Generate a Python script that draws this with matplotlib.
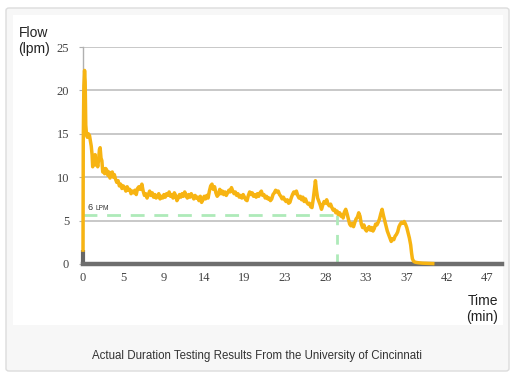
import matplotlib
matplotlib.use("Agg")
import matplotlib.pyplot as plt
from matplotlib.patches import FancyBboxPatch, Rectangle

# ---- data ----
time_min = [
    0.00, 0.03, 0.10, 0.18, 0.25, 0.32, 0.40, 0.50, 0.62, 0.75, 0.85, 0.95, 1.05, 1.12, 1.20, 1.30,
    1.40, 1.50, 1.60, 1.70, 1.80, 1.90, 1.98, 2.08, 2.18, 2.28, 2.38, 2.50, 2.62, 2.75, 2.88, 3.00,
    3.12, 3.25, 3.38, 3.50, 3.62, 3.75, 3.90, 4.05, 4.20, 4.35, 4.50, 4.65, 4.80, 4.95, 5.10, 5.25,
    5.40, 5.55, 5.70, 5.85, 6.00, 6.15, 6.30, 6.45, 6.60, 6.80, 6.95, 7.10, 7.25, 7.40, 7.55, 7.70,
    7.85, 8.00, 8.15, 8.30, 8.45, 8.60, 8.75, 8.90, 9.05, 9.20, 9.35, 9.50, 9.65, 9.80, 9.95, 10.10,
    10.25, 10.40, 10.55, 10.70, 10.85, 11.00, 11.15, 11.30, 11.45, 11.60, 11.75, 11.90, 12.05, 12.20,
    12.35, 12.50, 12.65, 12.80, 12.95, 13.10, 13.25, 13.40, 13.55, 13.70, 13.85, 14.00, 14.15, 14.30,
    14.45, 14.60, 14.75, 14.90, 15.05, 15.20, 15.35, 15.50, 15.65, 15.80, 15.95, 16.10, 16.25, 16.40,
    16.55, 16.70, 16.85, 17.00, 17.15, 17.30, 17.45, 17.60, 17.75, 17.90, 18.05, 18.20, 18.35, 18.50,
    18.65, 18.80, 18.95, 19.10, 19.25, 19.40, 19.55, 19.70, 19.85, 20.00, 20.15, 20.30, 20.45, 20.60,
    20.75, 20.90, 21.05, 21.20, 21.35, 21.50, 21.65, 21.80, 21.95, 22.10, 22.25, 22.40, 22.55, 22.70,
    22.85, 23.00, 23.15, 23.30, 23.45, 23.60, 23.75, 23.90, 24.05, 24.20, 24.35, 24.50, 24.65, 24.80,
    24.95, 25.10, 25.25, 25.40, 25.55, 25.70, 25.85, 26.00, 26.15, 26.30, 26.45, 26.60, 26.75, 26.85,
    26.95, 27.10, 27.25, 27.40, 27.55, 27.70, 27.85, 28.00, 28.15, 28.30, 28.45, 28.60, 28.75, 28.90,
    29.05, 29.20, 29.35, 29.50, 29.65, 29.80, 29.95, 30.05, 30.20, 30.35, 30.50, 30.65, 30.80, 30.95,
    31.10, 31.25, 31.40, 31.55, 31.70, 31.85, 32.00, 32.15, 32.30, 32.45, 32.60, 32.75, 32.90, 33.05,
    33.20, 33.35, 33.50, 33.65, 33.80, 33.95, 34.10, 34.25, 34.40, 34.55, 34.70, 34.85, 35.00, 35.15,
    35.30, 35.45, 35.60, 35.75, 35.90, 36.05, 36.20, 36.35, 36.50, 36.65, 36.80, 36.95, 37.10, 37.25,
    37.40, 37.55, 37.70, 37.85, 37.95, 38.05, 38.20, 38.40, 38.70, 39.20, 39.80, 40.40,
]
flow_lpm = [
    1.6, 14.0, 20.5, 22.3, 21.0, 16.0, 15.0, 14.6, 15.0, 14.8, 14.2, 13.6, 12.6, 11.2, 12.2, 11.8,
    12.6, 11.4, 11.8, 11.2, 12.0, 13.2, 13.4, 12.2, 11.9, 10.6, 11.0, 10.4, 11.0, 10.8, 10.2, 10.6,
    9.9, 10.4, 10.6, 10.0, 10.3, 9.8, 9.4, 9.6, 9.0, 9.2, 8.7, 9.0, 8.8, 8.4, 8.9, 8.5,
    8.6, 8.1, 8.4, 8.2, 8.5, 8.0, 8.7, 8.9, 8.6, 9.2, 8.4, 7.9, 8.1, 7.6, 8.0, 8.4,
    7.9, 8.2, 7.7, 8.0, 7.6, 7.8, 8.1, 7.5, 7.8, 7.6, 8.0, 7.7, 8.1, 7.9, 8.3, 7.8,
    8.0, 7.6, 8.2, 7.9, 7.3, 7.6, 8.0, 7.7, 8.1, 7.8, 8.3, 7.9, 7.6, 8.0,
    7.7, 8.1, 7.8, 7.5, 7.9, 7.6, 7.7, 7.3, 7.8, 7.1, 7.4, 7.8, 7.5, 7.9,
    7.6, 8.4, 9.0, 9.2, 8.6, 8.9, 8.2, 7.8, 8.0, 8.6, 8.1, 8.4, 8.0, 8.3,
    7.9, 8.2, 8.5, 8.3, 8.8, 8.4, 8.1, 8.3, 7.9, 8.1, 7.7, 7.9, 7.6, 8.0,
    7.7, 7.4, 7.3, 7.9, 8.3, 8.0, 8.2, 7.8, 8.0, 7.7, 8.1, 7.8, 8.2, 8.4,
    7.9, 8.0, 7.6, 7.8, 7.5, 7.6, 7.3, 7.5, 8.0, 8.2, 8.5, 8.3, 8.4, 8.0,
    7.8, 7.5, 7.7, 7.4, 7.2, 7.4, 7.0, 7.1, 7.6, 8.0, 8.3, 8.1, 8.4, 7.9,
    7.6, 7.8, 7.4, 7.7, 7.2, 7.5, 7.1, 6.9, 7.0, 6.6, 6.5, 7.5, 8.8, 9.6,
    8.6, 7.6, 7.2, 6.8, 6.3, 6.8, 7.2, 7.0, 7.4, 6.9, 6.7, 6.9, 6.5, 6.2,
    6.3, 5.9, 6.1, 5.7, 5.9, 5.5, 5.7, 5.3, 6.0, 6.3, 5.8, 5.2, 4.6, 4.4,
    4.7, 4.3, 4.8, 5.2, 5.4, 5.9, 5.5, 4.6, 4.2, 4.5, 4.0, 3.8, 4.1, 4.3,
    3.9, 4.2, 3.8, 4.1, 4.6, 4.5, 4.8, 5.2, 5.8, 6.3, 5.6, 5.0, 4.4, 3.8,
    3.4, 3.0, 2.6, 2.9, 2.8, 3.2, 3.4, 3.7, 4.3, 4.6, 4.8, 4.7, 4.9, 4.6,
    4.2, 3.6, 3.0, 2.2, 1.3, 0.6, 0.3, 0.2, 0.15, 0.1, 0.08, 0.05,
]
base_time = [0.0, 0.0]
base_flow = [0.0, 1.6]
threshold_flow = 5.6
threshold_time = 29.3
x_ticks = [0, 14 / 3, 28 / 3, 14, 56 / 3, 70 / 3, 28, 98 / 3, 112 / 3, 42, 140 / 3]
x_tick_labels = ["0", "5", "9", "14", "19", "23", "28", "33", "37", "42", "47"]
y_ticks = [0, 5, 10, 15, 20, 25]
caption = "Actual Duration Testing Results From the University of Cincinnati"

W, H = 514, 378
fig = plt.figure(figsize=(W / 100, H / 100), dpi=100)
fig.patch.set_facecolor("white")

def fx(px):
    return px / W

def fy(py):
    return 1 - py / H

# outer card
card = FancyBboxPatch((fx(6), fy(371)), fx(503), (363) / H,
                      boxstyle="round,pad=0,rounding_size=0.006",
                      transform=fig.transFigure, facecolor="#f7f7f7",
                      edgecolor="#dcdcdc", linewidth=1.0, zorder=-10)
fig.patches.append(card)
inner = Rectangle((fx(13), fy(325)), fx(490), 310 / H, transform=fig.transFigure,
                  facecolor="white", edgecolor="none", zorder=-9)
fig.patches.append(inner)

ax = fig.add_axes([fx(83), fy(264), fx(502 - 83), (264 - 47) / H])
ax.set_facecolor("none")
ax.set_xlim(0, 48.4)
ax.set_ylim(0, 25)

for y in y_ticks[1:]:
    ax.axhline(y, color="#c4c4c4", lw=1.3, zorder=1)

ax.plot(base_time, base_flow, color="#666666", lw=3.0, solid_capstyle="butt", zorder=3, clip_on=False)

green = "#aeeab9"
ax.plot([0, threshold_time], [threshold_flow, threshold_flow], color=green, lw=2.0,
        dashes=(5, 3.5), zorder=2)
ax.plot([threshold_time, threshold_time], [threshold_flow, 0], color=green, lw=2.0,
        dashes=(3.5, 3.5), zorder=2)

ax.plot(time_min, flow_lpm, color="#f7b412", lw=2.5, zorder=4, clip_on=False,
        solid_joinstyle="round")

ax.text(0.55, 6.0, "6", fontsize=6.5, family="Liberation Sans", color="#333333",
        va="bottom", ha="left", zorder=5)
ax.text(1.4, 6.0, "LPM", fontsize=4.8, family="Liberation Sans", color="#333333",
        va="bottom", ha="left", zorder=5)

for s in ["top", "right"]:
    ax.spines[s].set_visible(False)
ax.spines["left"].set_color("#b0b0b0")
ax.spines["left"].set_linewidth(1.0)
ax.spines["bottom"].set_color("#6e6e6e")
ax.spines["bottom"].set_linewidth(3.2)
ax.spines["bottom"].set_zorder(3)

ax.set_xticks(x_ticks)
ax.set_xticklabels(x_tick_labels)
ax.set_yticks(y_ticks)
ax.tick_params(axis="x", length=0, pad=6, labelsize=9, labelcolor="#444444")
ax.tick_params(axis="y", length=3, width=0.8, color="#b0b0b0", pad=7, labelsize=9,
               labelcolor="#444444")
for lab in ax.get_xticklabels() + ax.get_yticklabels():
    lab.set_family("Liberation Serif")

fig.text(fx(34), fy(41), "Flow\n(lpm)", ha="center", va="center", fontsize=10,
         family="Liberation Sans", color="#222222", linespacing=1.25)
fig.text(fx(498), fy(309), "Time\n(min)", ha="right", va="center", fontsize=10,
         family="Liberation Sans", color="#222222", linespacing=1.25, multialignment="right")
fig.text(fx(257), fy(356), caption, ha="center", va="center", fontsize=8.3,
         family="Liberation Sans", color="#333333")

fig.savefig("out.png", dpi=100)
